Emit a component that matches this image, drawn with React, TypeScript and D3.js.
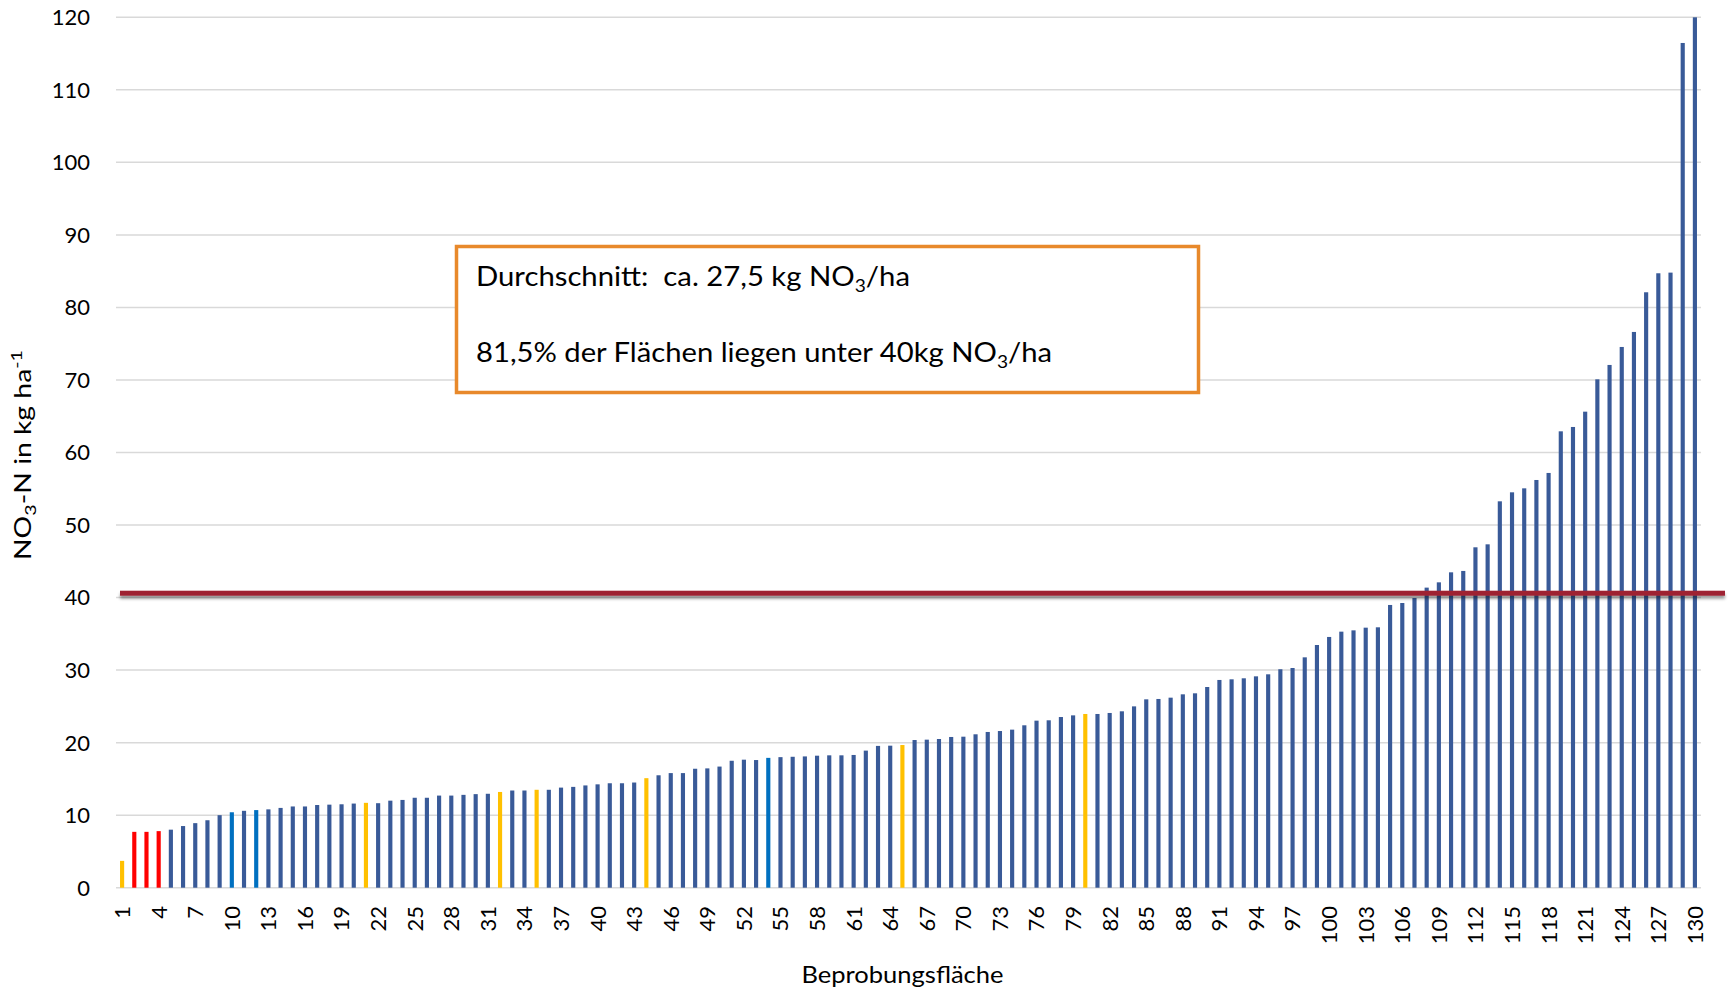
import React from "react";
import * as d3 from "d3";

// ---- data ----
const values: number[] = [
  3.7, 7.7, 7.7, 7.8, 8.0, 8.5, 8.9, 9.3, 10.0, 10.4,
  10.6, 10.7, 10.8, 11.0, 11.2, 11.2, 11.4, 11.45, 11.5, 11.6,
  11.7, 11.65, 12.0, 12.1, 12.4, 12.4, 12.7, 12.7, 12.8, 12.9,
  12.95, 13.2, 13.4, 13.4, 13.5, 13.5, 13.8, 13.9, 14.1, 14.25,
  14.4, 14.4, 14.5, 15.1, 15.5, 15.8, 15.8, 16.4, 16.45, 16.7,
  17.5, 17.65, 17.6, 17.9, 18.0, 18.05, 18.1, 18.2, 18.25, 18.25,
  18.3, 18.9, 19.55, 19.58, 19.67, 20.36, 20.41, 20.5, 20.78, 20.82,
  21.15, 21.47, 21.6, 21.79, 22.39, 23.03, 23.08, 23.53, 23.76, 23.95,
  23.95, 24.09, 24.32, 25.0, 25.97, 26.02, 26.2, 26.66, 26.8, 27.67,
  28.64, 28.73, 28.87, 29.14, 29.42, 30.12, 30.29, 31.76, 33.46, 34.57,
  35.3, 35.48, 35.85, 35.9, 38.98, 39.25, 39.94, 41.37, 42.1, 43.48,
  43.67, 46.93, 47.34, 53.27, 54.51, 55.06, 56.21, 57.18, 62.92, 63.52,
  65.63, 70.09, 72.07, 74.55, 76.62, 82.09, 84.71, 84.8, 116.46, 120,
];
const categories: number[] = values.map((_, i) => i + 1);
const orangeCats: number[] = [1, 21, 32, 35, 44, 65, 80];
const redCats: number[] = [2, 3, 4];
const lightBlueCats: number[] = [10, 12, 54];
const yTicks: number[] = [0, 10, 20, 30, 40, 50, 60, 70, 80, 90, 100, 110, 120];
const xTickCats: number[] = categories.filter((c) => (c - 1) % 3 === 0);
const thresholdValue = 40.6;

const FONT = "Lato, 'Open Sans', sans-serif";

export default function App() {
  const W = 1732;
  const H = 988;
  const left = 116;
  const right = 1701;
  const top = 17.3;
  const bottom = 887.7;

  const x = d3
    .scaleBand<number>()
    .domain(categories)
    .range([left, right])
    .paddingInner(0.66)
    .paddingOuter(0.33);
  const y = d3.scaleLinear().domain([0, 120]).range([bottom, top]);

  const colorOf = (c: number) =>
    redCats.includes(c)
      ? "#FF0000"
      : orangeCats.includes(c)
      ? "#FFC000"
      : lightBlueCats.includes(c)
      ? "#0070C0"
      : "#395A98";

  const bw = x.bandwidth();
  const center = (c: number) => (x(c) as number) + bw / 2;
  const yTh = y(thresholdValue);

  return (
    <svg
      width={W}
      height={H}
      style={{ position: "absolute", left: 0, top: 0, background: "#fff" }}
      fontFamily={FONT}
    >
      <defs>
        <filter
          id="shadow"
          filterUnits="userSpaceOnUse"
          x={100}
          y={560}
          width={1650}
          height={60}
        >
          <feDropShadow dx="0" dy="3" stdDeviation="1.8" floodColor="#000" floodOpacity="0.4" />
        </filter>
      </defs>
      <rect x={0} y={0} width={W} height={H} fill="#fff" />
      {/* gridlines */}
      {yTicks.map((t) => (
        <line
          key={"g" + t}
          x1={left}
          x2={right}
          y1={y(t)}
          y2={y(t)}
          stroke="#D9D9D9"
          strokeWidth={1.5}
        />
      ))}
      {/* y tick labels */}
      {yTicks.map((t) => (
        <text
          key={"yl" + t}
          x={90}
          y={y(t)}
          dy="0.36em"
          textAnchor="end"
          fontSize={22}
          fill="#000"
        >
          {t}
        </text>
      ))}
      {/* bars */}
      {categories.map((c, i) => (
        <rect
          key={"b" + c}
          x={x(c)}
          y={y(values[i])}
          width={bw}
          height={bottom - y(values[i])}
          fill={colorOf(c)}
        />
      ))}
      {/* threshold line */}
      <rect
        x={120}
        y={yTh - 2.5}
        width={1605}
        height={5}
        fill="#9E2332"
        filter="url(#shadow)"
      />
      {/* x tick labels */}
      {xTickCats.map((c) => (
        <text
          key={"xl" + c}
          transform={`translate(${center(c)},906) rotate(-90)`}
          dy="0.36em"
          textAnchor="end"
          fontSize={22}
          fill="#000"
        >
          {c}
        </text>
      ))}
      {/* x axis title */}
      <text
        x={801.5}
        y={982.7}
        fontSize={24}
        fill="#000"
        textLength={202}
        lengthAdjust="spacingAndGlyphs"
      >
        Beprobungsfläche
      </text>
      {/* y axis title */}
      <text
        transform={`translate(31,560) rotate(-90)`}
        fontSize={23}
        fill="#000"
        textLength={210}
        lengthAdjust="spacingAndGlyphs"
      >
        NO
        <tspan fontSize={16} dy="5">3</tspan>
        <tspan dy="-5">-N in kg ha</tspan>
        <tspan fontSize={16} dy="-9">-1</tspan>
      </text>
      {/* annotation box */}
      <rect
        x={456.5}
        y={246.5}
        width={742}
        height={146}
        fill="#fff"
        stroke="#E8892B"
        strokeWidth={3.5}
      />
      <text x={476} y={285.7} fontSize={26} fill="#000" textLength={434} lengthAdjust="spacingAndGlyphs">
        Durchschnitt:{"\u00A0\u00A0"}ca. 27,5 kg NO
        <tspan fontSize={17} dy="6">3</tspan>
        <tspan dy="-6">/ha</tspan>
      </text>
      <text x={476} y={362.3} fontSize={26} fill="#000" textLength={576} lengthAdjust="spacingAndGlyphs">
        81,5% der Flächen liegen unter 40kg NO
        <tspan fontSize={17} dy="6">3</tspan>
        <tspan dy="-6">/ha</tspan>
      </text>
    </svg>
  );
}
